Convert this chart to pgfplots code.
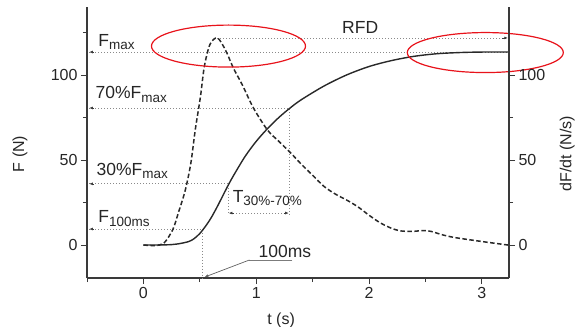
\documentclass[border=0pt]{standalone}
\usepackage{fontspec}
\setmainfont{Liberation Sans}
\usepackage{pgfplots}
\pgfplotsset{compat=1.18}
\usetikzlibrary{arrows.meta}
\definecolor{axc}{HTML}{3A3A3A}
\definecolor{dotc}{HTML}{8A8A8A}
\definecolor{ellc}{HTML}{E8131B}
\newcommand{\sub}[1]{{\fontsize{13.5bp}{14bp}\selectfont\raisebox{-3.5bp}{#1}}}
\tikzset{arrh/.style={axc, line width=0.6bp, -{Latex[length=3.5bp,width=2.8bp]}},
  guide/.style={dotc, line width=0.8bp, dash pattern=on 1bp off 2bp}}
\begin{document}
\begin{tikzpicture}
\path[use as bounding box] (-87bp,-49bp) rectangle (490bp,278bp);
\begin{axis}[
  scale only axis, width=422bp, height=271bp,
  at={(0,0)}, anchor=south west,
  xmin=-0.5, xmax=3.24, ymin=-19.4, ymax=140,
  axis x line*=bottom, axis y line*=left,
  axis line style={axc, line width=1.1bp},
  every tick/.style={axc, line width=0.9bp},
  tick align=outside,
  major tick length=6bp, minor tick length=4bp,
  xtick={0,1,2,3}, minor xtick={-0.5,0.5,1.5,2.5},
  ytick={0,50,100}, minor ytick={25,75,125},
  /pgf/number format/assume math mode=true,
  tick label style={font=\fontsize{16bp}{18bp}\selectfont, text=black!85},
  xlabel={t (s)}, ylabel={F (N)},
  label style={font=\fontsize{16bp}{18bp}\selectfont, text=black!85},
  xlabel style={at={(axis description cs:0.46,-0.155)}, anchor=center},
  ylabel style={at={(axis description cs:-0.159,0.458)}, anchor=center},
  clip=false,
]
% guide lines
\draw[guide] (axis cs:0.656,121.8) -- (axis cs:3.22,121.8);
\draw[guide] (axis cs:-0.48,113.5) -- (axis cs:3.24,113.5);
\draw[guide] (axis cs:-0.48,80.6) -- (axis cs:1.29,80.6) -- (axis cs:1.29,17.5);
\draw[guide] (axis cs:-0.48,36) -- (axis cs:0.755,36) -- (axis cs:0.755,17.5);
\draw[guide] (axis cs:-0.48,9.4) -- (axis cs:0.523,9.4) -- (axis cs:0.523,-19.4);
\draw[guide] (axis cs:0.77,18.8) -- (axis cs:1.275,18.8);
% arrowheads
\draw[arrh] (axis cs:-0.44,113.5) -- (axis cs:-0.48,113.5);
\draw[arrh] (axis cs:-0.44,80.6) -- (axis cs:-0.48,80.6);
\draw[arrh] (axis cs:-0.44,36) -- (axis cs:-0.48,36);
\draw[arrh] (axis cs:-0.44,9.4) -- (axis cs:-0.48,9.4);
\draw[arrh] (axis cs:3.18,121.8) -- (axis cs:3.23,121.8);
\draw[arrh] (axis cs:0.80,18.8) -- (axis cs:0.757,18.8);
\draw[arrh] (axis cs:1.245,18.8) -- (axis cs:1.288,18.8);
% 100ms leader
\draw[dotc!90!black, line width=0.8bp] (axis cs:1.32,-8.8) -- (axis cs:0.94,-8.8);
\draw[dotc!70!black, line width=0.7bp, -{Latex[length=4bp,width=3bp]}] (axis cs:0.94,-8.8) -- (axis cs:0.54,-18.9);
% texts
\begin{scope}[every node/.style={font=\fontsize{17.5bp}{19bp}\selectfont, text=black!85, inner sep=0pt}]
\node[anchor=base west] at (axis cs:-0.40,117) {F\sub{max}};
\node[anchor=base west] at (axis cs:-0.425,86) {70\%F\sub{max}};
\node[anchor=base west] at (axis cs:-0.417,41) {30\%F\sub{max}};
\node[anchor=base west] at (axis cs:-0.40,13) {F\sub{100ms}};
\node[anchor=base west] at (axis cs:0.79,25.3) {T\sub{30\%-70\%}};
\node[anchor=base west] at (axis cs:1.02,-7.6) {100ms};
\node[anchor=base west] at (axis cs:1.76,124.7) {RFD};
\end{scope}
% curves
\addplot[axc!70!black, line width=1.4bp, smooth] coordinates {
(0,0) (0.2,0.1) (0.3,0.6) (0.4,2) (0.45,3.8) (0.5,6.8) (0.55,11) (0.6,16) (0.65,22)
(0.7,28.5) (0.75,35) (0.8,41) (0.9,52) (1.0,61) (1.1,68.5) (1.2,75) (1.3,80.6) (1.4,85.5)
(1.6,93.5) (1.8,100) (2.0,105) (2.2,108.5) (2.4,111) (2.6,112.5) (2.8,113.2) (3.0,113.5) (3.24,113.5)};
\addplot[axc!70!black, line width=1.5bp, dash pattern=on 4.5bp off 2.5bp, smooth, tension=0.5] coordinates {
(0,0) (0.1,-0.3) (0.18,1) (0.26,9) (0.31,19) (0.37,32) (0.42,48) (0.46,68) (0.505,87)
(0.54,105) (0.59,118) (0.656,121.8) (0.727,114.7) (0.798,104) (0.878,94) (0.975,80.6)
(1.10,67.6) (1.20,61) (1.30,54.5) (1.40,47.5) (1.50,41) (1.60,34.5) (1.70,30) (1.80,26.5)
(1.90,22.5) (2.00,17.5) (2.10,13) (2.20,9.8) (2.28,8.3) (2.38,8) (2.48,8.5) (2.55,8)
(2.65,6) (2.75,4.5) (2.90,3) (3.05,1.6) (3.23,0)};
% ellipses
\draw[ellc, line width=1.2bp] (axis cs:0.754,117) ellipse [x radius=77bp, y radius=21bp];
\draw[ellc, line width=1.2bp] (axis cs:3.03,113.2) ellipse [x radius=78bp, y radius=20bp];
\end{axis}
\begin{axis}[
  scale only axis, width=422bp, height=271bp,
  at={(0,0)}, anchor=south west,
  xmin=-0.5, xmax=3.24, ymin=-19.4, ymax=140,
  axis x line=none, axis y line*=right,
  axis line style={axc, line width=1.1bp},
  every tick/.style={axc, line width=0.9bp},
  tick align=outside,
  major tick length=6bp, minor tick length=4bp,
  ytick={0,50,100}, minor ytick={25,75},
  /pgf/number format/assume math mode=true,
  tick label style={font=\fontsize{16bp}{18bp}\selectfont, text=black!85},
  ylabel={dF/dt (N/s)},
  label style={font=\fontsize{16bp}{18bp}\selectfont, text=black!85},
  ylabel style={at={(axis description cs:1.138,0.458)}, anchor=center, rotate=0},
]
\end{axis}
\end{tikzpicture}
\end{document}
